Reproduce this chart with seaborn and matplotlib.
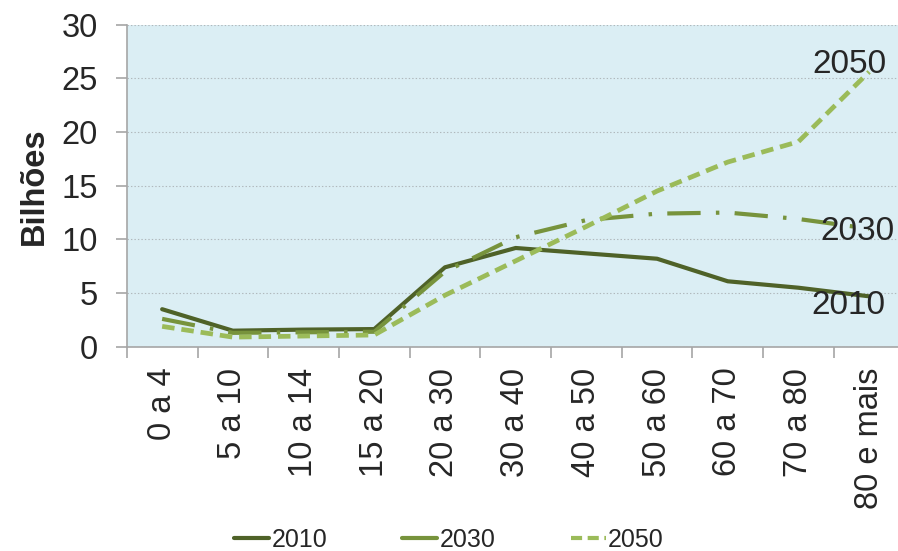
import matplotlib
matplotlib.use("Agg")
import matplotlib.pyplot as plt
from matplotlib.lines import Line2D
from matplotlib.ticker import FixedLocator, MultipleLocator
import pandas as pd
import seaborn as sns

faixas = ["0 a 4", "5 a 10", "10 a 14", "15 a 20", "20 a 30", "30 a 40",
          "40 a 50", "50 a 60", "60 a 70", "70 a 80", "80 e mais"]
v2010 = [3.5, 1.5, 1.6, 1.65, 7.4, 9.2, 8.7, 8.2, 6.1, 5.5, 4.7]
v2030 = [2.6, 1.3, 1.35, 1.4, 7.0, 10.2, 11.8, 12.4, 12.5, 11.9, 11.0]
v2050 = [1.9, 0.9, 1.0, 1.1, 4.8, 8.0, 11.2, 14.5, 17.2, 19.1, 25.6]
anos = ["2010", "2030", "2050"]

cores = {"2010": "#4f6228", "2030": "#77933c", "2050": "#9bbb59"}
tracos = {"2010": "", "2030": (24, 11, 2.5, 11), "2050": (9, 5)}
larguras = {"2010": 3.0, "2030": 3.0, "2050": 3.4}

df = pd.DataFrame({
    "faixa": faixas * 3,
    "valor": v2010 + v2030 + v2050,
    "ano": [a for a in anos for _ in faixas],
})

sns.set_theme(style="white")
plt.rcParams["font.family"] = ["Liberation Sans", "DejaVu Sans"]
plt.rcParams["lines.scale_dashes"] = False

fig = plt.figure(figsize=(8.98, 5.51), dpi=100)
ax = fig.add_axes([126.8 / 898, 1 - 346.8 / 551,
                   (126.8 + 70.7 * 11) / 898 - 126.8 / 898,
                   (346.8 - 24.6) / 551])
ax.set_facecolor("#dbeef4")

for ano in anos:
    sub = df[df["ano"] == ano]
    sns.lineplot(data=sub, x="faixa", y="valor", ax=ax, sort=False,
                 color=cores[ano], linewidth=larguras[ano], legend=False)
    ln = ax.lines[-1]
    if tracos[ano]:
        ln.set_dashes(tracos[ano])

ax.set_xlim(-0.5, len(faixas) - 0.5)
ax.set_ylim(0, 30)
ax.yaxis.set_major_locator(MultipleLocator(5))
ax.grid(axis="y", color="#b0b8bc", linestyle=(0, (1, 1.5)), linewidth=0.8)
ax.set_axisbelow(True)

for s in ["top", "right"]:
    ax.spines[s].set_visible(False)
for s in ["left", "bottom"]:
    ax.spines[s].set_color("#a6a6a6")
    ax.spines[s].set_linewidth(1.2)

ax.set_xticks(range(len(faixas)))
ax.set_xticklabels(faixas, rotation=90, fontsize=23.5, va="top", ha="center")
ax.xaxis.set_minor_locator(FixedLocator([i + 0.5 for i in range(-1, len(faixas))]))
ax.tick_params(axis="x", which="major", length=0, pad=15)
ax.tick_params(axis="x", which="minor", length=8, width=1.2, color="#a6a6a6",
               direction="out", bottom=True)
ax.tick_params(axis="y", length=8, width=1.2, color="#a6a6a6", direction="out",
               left=True, labelsize=23.5, pad=13)
ax.set_xlabel("")
ax.set_ylabel("Bilhões", fontsize=23.5, fontweight="bold", labelpad=8)

ax.text(9.72, 26.3, "2050", fontsize=24, ha="center", va="center")
ax.text(9.83, 10.7, "2030", fontsize=24, ha="center", va="center")
ax.text(9.70, 3.8, "2010", fontsize=24, ha="center", va="center")

handles = [
    Line2D([], [], color=cores["2010"], linewidth=3),
    Line2D([], [], color=cores["2030"], linewidth=3),
    Line2D([], [], color=cores["2050"], linewidth=3, dashes=(8, 4)),
]
fig.legend(handles, anos, loc="center", bbox_to_anchor=(0.5, 1 - 540 / 551),
           ncol=3, frameon=False, fontsize=18, handlelength=1.4,
           handletextpad=0.1, columnspacing=3.0)

fig.savefig("out.png", dpi=100)
